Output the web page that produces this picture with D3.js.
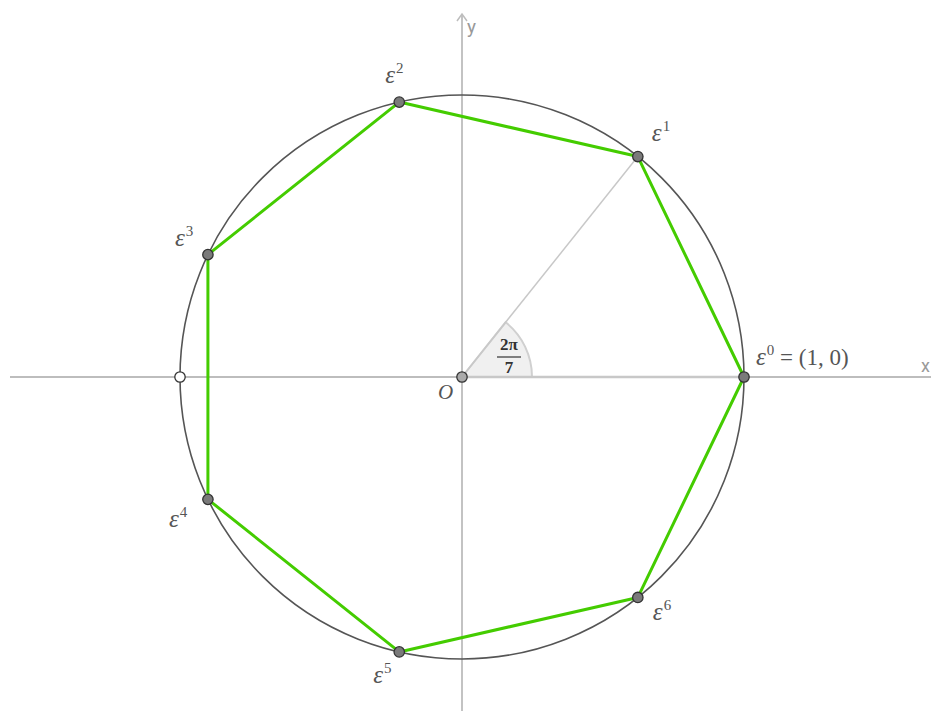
<!DOCTYPE html>
<html>
<head>
<meta charset="utf-8">
<script src="https://cdn.jsdelivr.net/npm/d3@7"></script>
<style>
  body { margin: 0; background: #fff; }
  svg { display: block; }
  .lbl { font-family: "Liberation Serif", "DejaVu Serif", serif; fill: #555; }
</style>
</head>
<body>
<svg id="chart"></svg>
<script>
// 7th roots of unity
const roots = [0, 1, 2, 3, 4, 5, 6];
const re = [1, 0.6235, -0.2225, -0.901, -0.901, -0.2225, 0.6235];
const im = [0, 0.7818, 0.9749, 0.4339, -0.4339, -0.9749, -0.7818];
const angle = 2 * Math.PI / 7;

const width = 931, height = 711;
const svg = d3.select('#chart').attr('width', width).attr('height', height);

const xScale = d3.scaleLinear().domain([-1, 1]).range([180, 744]);
const yScale = d3.scaleLinear().domain([-1, 1]).range([659, 95]);
const ox = xScale(0), oy = yScale(0);
const r = xScale(1) - ox;

// axes
svg.append('line')
    .attr('x1', 10).attr('x2', width).attr('y1', oy).attr('y2', oy)
    .attr('stroke', '#bdbdbd').attr('stroke-width', 1.8);
svg.append('line')
    .attr('x1', ox).attr('x2', ox).attr('y1', height).attr('y2', 14)
    .attr('stroke', '#bdbdbd').attr('stroke-width', 1.8);
svg.append('path')
    .attr('d', `M${ox - 5},${21} L${ox},${14} L${ox + 5},${21}`)
    .attr('fill', 'none').attr('stroke', '#bdbdbd').attr('stroke-width', 1.5);
svg.append('text').attr('x', 467).attr('y', 33)
    .style('font-family', 'Roboto, sans-serif').style('font-size', '19px')
    .attr('fill', '#999').text('y');
svg.append('text').attr('x', 921).attr('y', 372)
    .style('font-family', 'Roboto, sans-serif').style('font-size', '18px')
    .attr('fill', '#999').text('x');

// angle sector
const arc = d3.arc().innerRadius(0).outerRadius(70)
    .startAngle(Math.PI / 2 - angle).endAngle(Math.PI / 2);
svg.append('path')
    .attr('transform', `translate(${ox},${oy})`)
    .attr('d', arc())
    .attr('fill', '#f0f0f0').attr('stroke', '#d0d0d0').attr('stroke-width', 2);

// ray to eps^1
svg.append('line')
    .attr('x1', ox).attr('y1', oy).attr('x2', xScale(re[1])).attr('y2', yScale(im[1]))
    .attr('stroke', '#c8c8c8').attr('stroke-width', 1.5);
svg.append('line')
    .attr('x1', ox).attr('y1', oy).attr('x2', xScale(1)).attr('y2', oy)
    .attr('stroke', '#c8c8c8').attr('stroke-width', 2.5);

// fraction 2pi/7
const frac = svg.append('g').attr('class', 'lbl').style('font-weight', 'bold').style('font-size', '17px');
frac.append('text').attr('x', 509).attr('y', 350).attr('text-anchor', 'middle').attr('fill', '#333').text('2π');
frac.append('line').attr('x1', 497).attr('x2', 521).attr('y1', 357).attr('y2', 357)
    .attr('stroke', '#333').attr('stroke-width', 1.2);
frac.append('text').attr('x', 509).attr('y', 373).attr('text-anchor', 'middle').attr('fill', '#333').text('7');

// unit circle
svg.append('circle')
    .attr('cx', ox).attr('cy', oy).attr('r', r)
    .attr('fill', 'none').attr('stroke', '#555').attr('stroke-width', 1.6);

// heptagon
const line = d3.line().x(k => xScale(re[k])).y(k => yScale(im[k])).curve(d3.curveLinearClosed);
svg.append('path')
    .attr('d', line(roots))
    .attr('fill', 'none').attr('stroke', '#44cc00').attr('stroke-width', 3)
    .attr('stroke-linejoin', 'round');

// points
svg.selectAll('.root').data(roots).enter().append('circle')
    .attr('class', 'root')
    .attr('cx', k => xScale(re[k])).attr('cy', k => yScale(im[k]))
    .attr('r', 5.2)
    .attr('fill', '#7a7a7a').attr('stroke', '#333').attr('stroke-width', 1.3);
svg.append('circle').attr('cx', xScale(-1)).attr('cy', oy).attr('r', 5.2)
    .attr('fill', '#fff').attr('stroke', '#333').attr('stroke-width', 1.3);
svg.append('circle').attr('cx', ox).attr('cy', oy).attr('r', 5.2)
    .attr('fill', '#aaa').attr('stroke', '#333').attr('stroke-width', 1.3);

// labels
const offsets = { 1: [14, -16], 2: [-14, -19], 3: [-33, -9], 4: [-39, 28], 5: [-26, 31], 6: [15, 23] };
roots.filter(k => k > 0).forEach(k => {
    const [dx, dy] = offsets[k];
    const t = svg.append('text').attr('class', 'lbl')
        .attr('x', xScale(re[k]) + dx).attr('y', yScale(im[k]) + dy)
        .style('font-size', '25px');
    t.append('tspan').style('font-style', 'italic').text('ε');
    t.append('tspan').attr('dy', -10).attr('dx', 1).style('font-size', '15px').text(k);
});
const l0 = svg.append('text').attr('class', 'lbl')
    .attr('x', xScale(1) + 12).attr('y', oy - 12).style('font-size', '25px');
l0.append('tspan').style('font-style', 'italic').text('ε');
l0.append('tspan').attr('dy', -10).attr('dx', 1).style('font-size', '15px').text('0');
l0.append('tspan').attr('dy', 10).style('font-size', '23px').text(' = (1, 0)');

svg.append('text').attr('class', 'lbl')
    .attr('x', 438).attr('y', 399)
    .style('font-size', '21px').style('font-style', 'italic').attr('fill', '#888')
    .text('O');
</script>
</body>
</html>
